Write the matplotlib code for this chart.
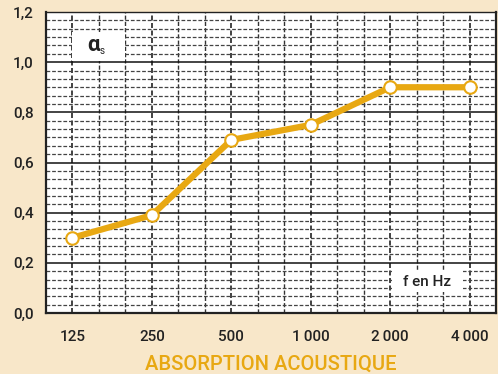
import numpy as np
import matplotlib
matplotlib.use("Agg")
import matplotlib.pyplot as plt
from matplotlib.patches import Rectangle

plt.rcParams["font.family"] = ["Roboto", "DejaVu Sans"]

# données
freqs = ["125", "250", "500", "1\u2009000", "2\u2009000", "4\u2009000"]
alpha_s = [0.30, 0.39, 0.69, 0.75, 0.90, 0.90]
y_labels = ["0,0", "0,2", "0,4", "0,6", "0,8", "1,0", "1,2"]

BG = "#F8E7C9"
GOLD = "#E8A812"
x = np.arange(len(freqs))

fig = plt.figure(figsize=(4.98, 3.74), dpi=100, facecolor=BG)
ax = fig.add_axes([46 / 498, 61 / 374, 450 / 498, 301 / 374])
ax.set_facecolor("white")

ax.set_xlim(-1 / 3, len(freqs) - 1 + 1 / 3)
ax.set_ylim(0, 1.2)

# grille : tiers d'octave en pointillés, 0,2 en trait plein
ax.set_xticks(x)
ax.set_xticklabels(freqs, fontsize=11, color="#222", fontweight="medium")
ax.set_xticks([k / 3 for k in range(1, 15) if k % 3], minor=True)
ax.set_yticks(np.linspace(0, 1.2, 7))
ax.set_yticklabels(y_labels, fontsize=11, color="#222", fontweight="medium")
ax.set_yticks(np.linspace(0, 1.2, 37), minor=True)
ax.tick_params(which="both", length=0)
ax.tick_params(axis="x", pad=12)
ax.tick_params(axis="y", pad=9)

ax.grid(axis="x", which="major", color="#222", lw=1.2, ls=(0, (3, 1.5)))
ax.grid(axis="x", which="minor", color="#333", lw=1.0, ls=(0, (3, 1.5)))
ax.grid(axis="y", which="minor", color="#444", lw=0.9, ls=(0, (3, 1.5)))
ax.grid(axis="y", which="major", color="#111", lw=1.1, ls="-")
ax.set_axisbelow(True)

for s in ax.spines.values():
    s.set_color("#222")
    s.set_linewidth(1.0)
ax.spines["left"].set_linewidth(1.6)
ax.spines["bottom"].set_linewidth(1.6)
ax.spines["right"].set_linewidth(1.6)

ax.plot(x, alpha_s, color=GOLD, lw=4.5, marker="o", ms=9,
        mfc="white", mec=GOLD, mew=1.5, zorder=5, solid_capstyle="round")

# cartouches blancs
ax.add_patch(Rectangle((0.0, 1.005), 2 / 3, 0.117, fc="white", ec="none", zorder=1.5))
ax.text(0.27, 1.068, "α", fontsize=16, fontweight="bold", ha="center", va="center",
        color="#222", zorder=6)
ax.text(0.345, 1.045, "s", fontsize=7, ha="left", va="center", color="#222", zorder=7)

ax.add_patch(Rectangle((4.02, 0.085), 0.9, 0.085, fc="white", ec="none", zorder=1.5))
ax.text(4.46, 0.125, "f en Hz", fontsize=11, ha="center", va="center", color="#222",
        fontweight="medium", zorder=6)

fig.text(271 / 498, 10 / 374, "ABSORPTION ACOUSTIQUE", fontsize=14.5, color=GOLD,
         fontweight="medium", ha="center", va="center")

fig.savefig("out.png", dpi=100, facecolor=BG)
